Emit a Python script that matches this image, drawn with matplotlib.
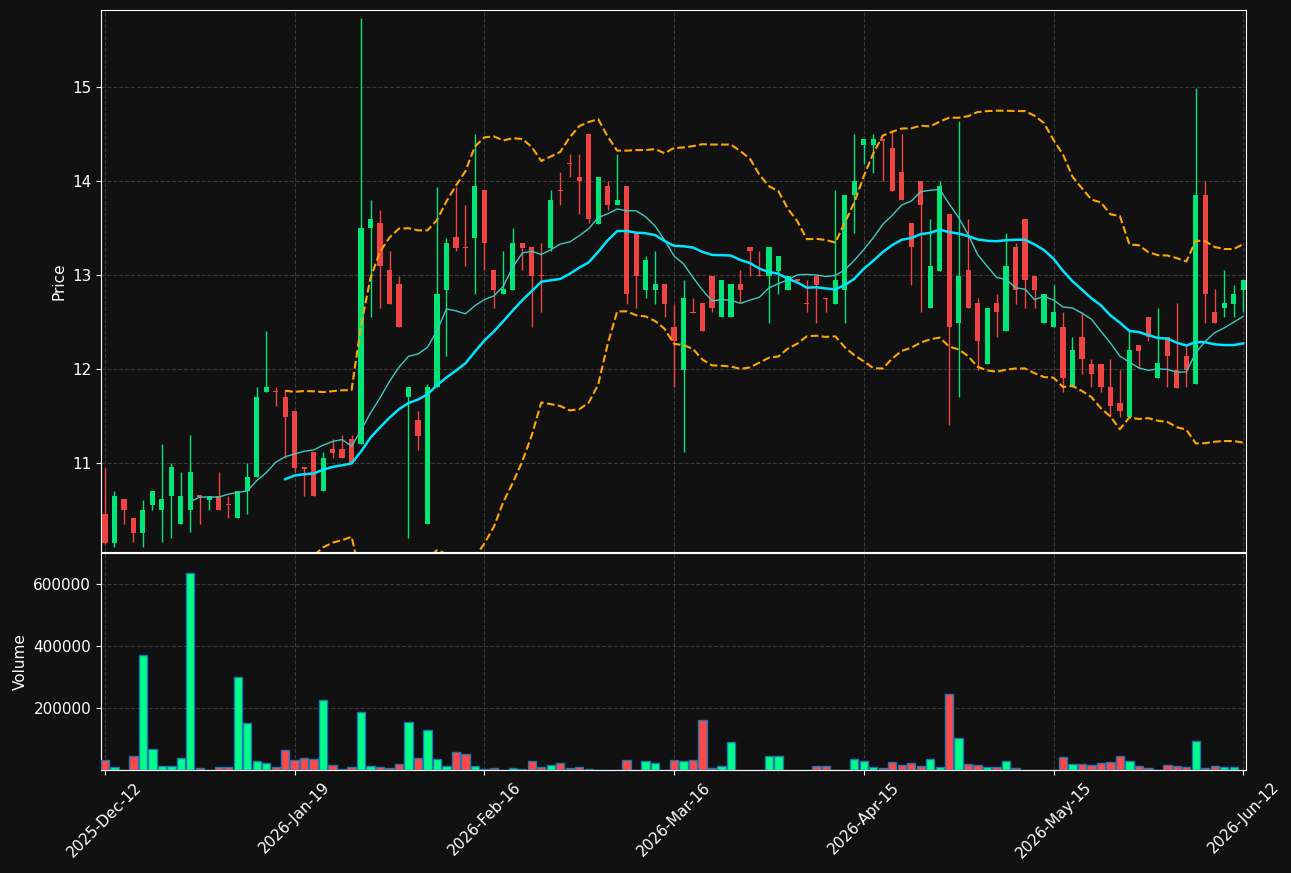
import numpy as np
import pandas as pd
import matplotlib
matplotlib.use('Agg')
import matplotlib.pyplot as plt

# daily OHLC + volume (121 sessions)
opens = [10.45, 10.15, 10.61, 10.41, 10.25, 10.55, 10.50, 10.65, 10.35, 10.50,
         10.65, 10.60, 10.65, 10.56, 10.41, 10.70, 10.85, 11.75, 11.76, 11.70,
         11.55, 10.95, 11.11, 10.70, 11.15, 11.15, 11.25, 11.20, 13.50, 13.55,
         13.05, 12.90, 11.70, 11.46, 10.35, 11.81, 12.84, 13.40, 13.30, 13.39,
         13.90, 13.05, 12.80, 12.84, 13.34, 13.30, 13.00, 13.29, 13.90, 14.19,
         14.04, 14.50, 13.54, 13.95, 13.74, 13.95, 13.45, 12.84, 12.84, 12.90,
         12.45, 11.99, 12.60, 12.70, 12.99, 12.55, 12.55, 12.90, 13.30, 13.00,
         12.99, 13.04, 12.84, 12.95, 12.70, 12.99, 12.75, 12.69, 12.84, 13.85,
         14.38, 14.38, 14.44, 14.35, 14.10, 13.55, 14.00, 12.65, 13.04, 13.65,
         12.49, 13.05, 12.70, 12.05, 12.70, 12.40, 13.30, 13.60, 12.99, 12.49,
         12.45, 12.45, 11.81, 12.34, 12.05, 12.05, 11.81, 11.64, 11.49, 12.25,
         12.55, 11.90, 12.34, 11.99, 12.14, 11.84, 13.85, 12.60, 12.65, 12.69,
         12.84]
highs = [10.94, 10.70, 10.61, 10.41, 10.60, 10.70, 11.20, 11.00, 10.90, 11.30,
         10.65, 10.65, 10.90, 10.65, 10.70, 11.00, 11.81, 12.40, 11.81, 11.78,
         11.55, 10.95, 11.11, 11.11, 11.25, 11.30, 11.30, 15.74, 13.80, 13.69,
         13.25, 12.99, 11.81, 11.55, 11.84, 13.94, 13.39, 13.94, 13.74, 14.50,
         13.90, 13.05, 13.25, 13.50, 13.34, 13.30, 13.34, 13.90, 14.10, 14.29,
         14.29, 14.50, 14.04, 14.00, 14.29, 13.95, 13.45, 13.20, 13.25, 12.90,
         12.69, 12.95, 12.75, 12.70, 12.99, 12.95, 12.90, 13.05, 13.30, 13.25,
         13.30, 13.20, 12.99, 12.95, 12.95, 12.99, 12.75, 13.90, 13.85, 14.50,
         14.45, 14.50, 14.44, 14.53, 14.50, 13.55, 14.00, 13.60, 14.00, 13.65,
         14.64, 13.59, 12.75, 12.65, 12.80, 13.45, 13.34, 13.60, 12.99, 12.80,
         12.89, 12.60, 12.34, 12.60, 12.10, 12.05, 12.10, 11.99, 12.40, 12.25,
         12.55, 12.65, 12.34, 12.70, 12.25, 14.99, 14.00, 12.85, 13.05, 12.89,
         12.95]
lows = [10.13, 10.10, 10.35, 10.16, 10.10, 10.50, 10.16, 10.20, 10.35, 10.26,
        10.35, 10.50, 10.50, 10.41, 10.41, 10.45, 10.85, 11.75, 11.60, 11.05,
        10.90, 10.65, 10.65, 10.70, 11.05, 11.05, 11.00, 11.20, 12.55, 12.65,
        12.69, 12.45, 10.20, 11.14, 10.35, 11.81, 12.14, 13.25, 13.09, 12.80,
        13.05, 12.65, 12.80, 12.84, 13.05, 12.45, 12.60, 13.25, 13.74, 14.04,
        13.65, 13.55, 13.54, 13.69, 13.74, 12.69, 12.65, 12.75, 12.69, 12.55,
        11.81, 11.11, 12.59, 12.40, 12.60, 12.55, 12.55, 12.71, 12.99, 12.99,
        12.49, 12.80, 12.84, 12.94, 12.60, 12.49, 12.60, 12.69, 12.49, 13.45,
        14.18, 14.09, 14.00, 13.89, 13.80, 12.89, 12.60, 12.65, 13.04, 11.40,
        11.70, 12.65, 11.99, 12.05, 12.34, 12.40, 12.69, 12.65, 12.65, 12.49,
        12.45, 11.75, 11.81, 11.95, 11.81, 11.75, 11.49, 11.49, 11.49, 12.01,
        12.30, 11.90, 11.81, 11.80, 11.81, 11.84, 12.49, 12.49, 12.55, 12.55,
        12.60]
closes = [10.15, 10.65, 10.50, 10.25, 10.50, 10.70, 10.61, 10.95, 10.65, 10.90,
          10.64, 10.65, 10.50, 10.55, 10.70, 10.85, 11.70, 11.81, 11.75, 11.49,
          10.94, 10.93, 10.65, 11.05, 11.10, 11.05, 11.00, 13.50, 13.60, 13.09,
          12.69, 12.45, 11.81, 11.29, 11.81, 12.80, 13.34, 13.29, 13.29, 13.95,
          13.34, 12.84, 12.85, 13.34, 13.29, 12.99, 12.99, 13.80, 13.89, 14.18,
          14.00, 13.59, 14.04, 13.74, 13.80, 12.80, 12.99, 13.16, 12.90, 12.69,
          12.30, 12.75, 12.59, 12.40, 12.65, 12.95, 12.90, 12.84, 13.25, 12.99,
          13.30, 13.20, 12.99, 12.94, 12.69, 12.89, 12.74, 12.95, 13.85, 14.00,
          14.45, 14.45, 14.43, 13.89, 13.80, 13.30, 13.74, 13.10, 13.95, 12.45,
          12.99, 12.65, 12.30, 12.65, 12.60, 13.10, 12.84, 12.95, 12.84, 12.80,
          12.60, 11.90, 12.20, 12.10, 11.95, 11.81, 11.60, 11.55, 12.20, 12.19,
          12.34, 12.06, 12.14, 11.80, 11.99, 13.85, 12.80, 12.49, 12.70, 12.80,
          12.95]
volumes = [32000, 9700, 500, 45000, 371000, 67700, 11800, 11800, 38700, 635500,
           6500, 800, 9700, 9700, 300000, 151600, 29000, 22600, 9700, 64500,
           32000, 38700, 35500, 225800, 16100, 4300, 9700, 187000, 12900, 9700,
           6500, 19400, 154800, 38700, 129000, 35500, 12900, 58000, 51600, 12900,
           3200, 6500, 1000, 6500, 2000, 29000, 8600, 16100, 22600, 6500,
           9700, 2000, 500, 1500, 1500, 32000, 1500, 29000, 22600, 500,
           32000, 29000, 32000, 161300, 6500, 12900, 90300, 1500, 1000, 1000,
           45000, 45000, 1500, 500, 1500, 11800, 11800, 1500, 1500, 35500,
           29000, 9700, 6500, 25800, 16100, 22600, 11800, 35500, 9700, 245200,
           103200, 19400, 16100, 9700, 9700, 29000, 6500, 1000, 1000, 1000,
           1000, 41900, 19400, 19400, 16100, 22600, 25800, 45000, 29000, 12900,
           6500, 1500, 16100, 12900, 9700, 93500, 6500, 12900, 9700, 9700,
           1000]
tick_labels = ['2025-Dec-12', '2026-Jan-19', '2026-Feb-16', '2026-Mar-16',
               '2026-Apr-15', '2026-May-15', '2026-Jun-12']

BG = '#111111'
UP, DOWN = '#00e676', '#ef4444'
VUP, VDOWN = '#00ff88', '#ff4848'

n = len(closes)
x = np.arange(n)
o = np.array(opens); h = np.array(highs); l = np.array(lows); c = np.array(closes)
up = c >= o

cs = pd.Series(closes)
ma10 = cs.rolling(10).mean()
ma20 = cs.rolling(20).mean()
sd20 = cs.rolling(20).std(ddof=0)
bb_up = ma20 + 2 * sd20
bb_lo = ma20 - 2 * sd20

fig = plt.figure(figsize=(12.91, 8.73), dpi=100, facecolor=BG)
ax = fig.add_axes([0.0782, 0.3677, 0.8870, 0.6208], facecolor=BG)
axv = fig.add_axes([0.0782, 0.118, 0.8870, 0.2486], facecolor=BG, sharex=ax)

cols = np.where(up, UP, DOWN)
ax.vlines(x, l, h, colors=cols, linewidth=1, zorder=2)
body = np.maximum(np.abs(c - o), 0.012)
ax.bar(x, body, bottom=np.minimum(o, c), width=0.55, color=cols, linewidth=0, zorder=3)

ax.plot(x, ma10, color='#40c8c0', lw=1, zorder=4)
ax.plot(x, ma20, color='#00e5ff', lw=1.8, zorder=4)
ax.plot(x, bb_up, color='#ffa500', lw=1.5, ls='--', zorder=4)
ax.plot(x, bb_lo, color='#ffa500', lw=1.5, ls='--', zorder=4)

vcols = np.where(up, VUP, VDOWN)
axv.bar(x, volumes, width=0.88, color=vcols, edgecolor='#1f77b4', linewidth=1.0, zorder=3)

ax.set_xlim(-0.42, 120.3)
ax.set_ylim(10.05, 15.82)
ax.set_yticks([11, 12, 13, 14, 15])
axv.set_ylim(0, 700000)
axv.set_yticks([200000, 400000, 600000])
axv.set_yticklabels(['200000', '400000', '600000'])

ticks = np.arange(0, n, 20)
axv.set_xticks(ticks)
axv.set_xticklabels(tick_labels, rotation=45, ha='center')
plt.setp(ax.get_xticklabels(), visible=False)
ax.tick_params(axis='x', length=0)

for a in (ax, axv):
    a.grid(True, color='#3a3a3a', linestyle='--', linewidth=0.8, zorder=0)
    a.set_axisbelow(True)
    a.tick_params(colors='white', labelsize=11)
    for s in a.spines.values():
        s.set_color('white')

ax.set_ylabel('Price', color='white', fontsize=11)
axv.set_ylabel('Volume', color='white', fontsize=11)

fig.savefig('out.png', dpi=100, facecolor=BG)
